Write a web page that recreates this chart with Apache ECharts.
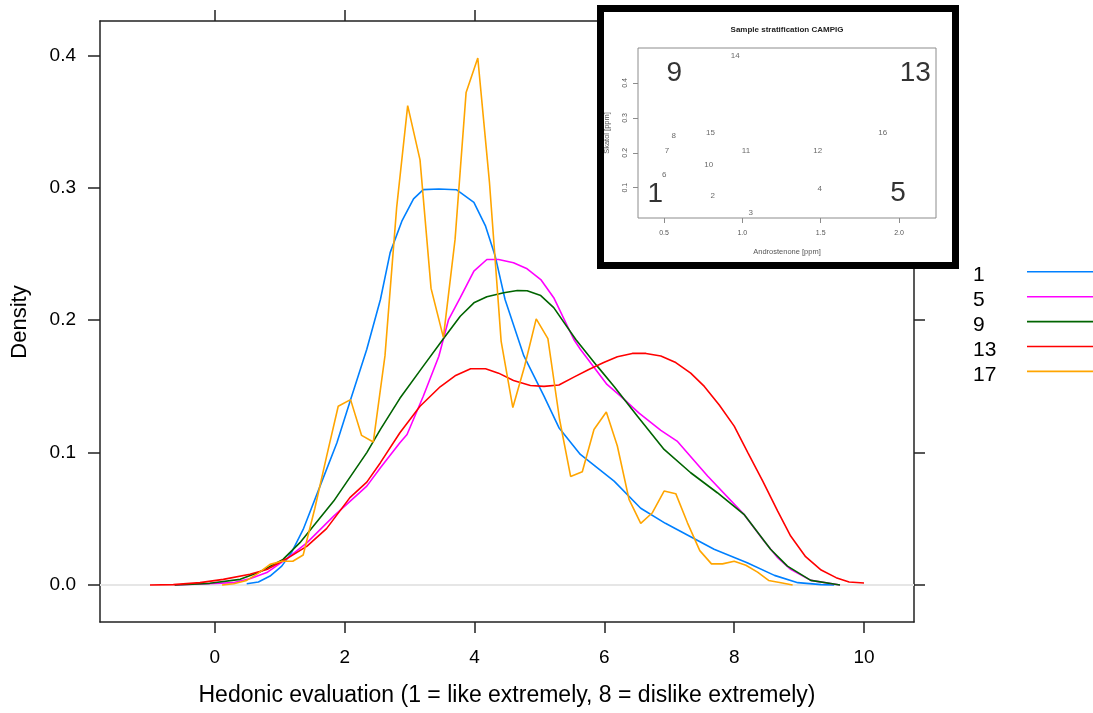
<!DOCTYPE html>
<html>
<head>
<meta charset="utf-8">
<script src="https://cdn.jsdelivr.net/npm/echarts@6/dist/echarts.min.js"></script>
<style>
  html, body { margin: 0; padding: 0; background: #fff; }
  #chart { width: 1093px; height: 713px; }
</style>
</head>
<body>
<div id="chart"></div>
<script>
// Kernel density estimates of hedonic scores, one curve per sample group
const groupNames  = ['1', '5', '9', '13', '17'];
const groupColors = ['#0080ff', '#ff00ff', '#006400', '#ff0000', '#ffa500'];

const dens1 = [[0.49,0.001],[0.67,0.0023],[0.85,0.0068],[1.03,0.0143],[1.18,0.0245],[1.36,0.042],[1.62,0.0747],[1.88,0.1075],[2.09,0.140],[2.34,0.178],[2.55,0.2156],[2.70,0.251],[2.88,0.2747],[3.06,0.2916],[3.21,0.2986],[3.45,0.2990],[3.72,0.2985],[3.99,0.289],[4.17,0.271],[4.32,0.248],[4.47,0.2156],[4.76,0.173],[5.07,0.1426],[5.30,0.1188],[5.63,0.0986],[6.15,0.0785],[6.56,0.058],[6.94,0.0466],[7.12,0.042],[7.69,0.027],[8.20,0.0169],[8.62,0.0073],[8.98,0.0018],[9.34,0.0003],[9.54,0]];

const dens5 = [[-0.62,0],[-0.20,0.0008],[0.28,0.0018],[0.55,0.005],[0.80,0.0094],[1.11,0.020],[1.42,0.032],[1.83,0.052],[2.34,0.0747],[2.55,0.0886],[2.85,0.1075],[2.96,0.1137],[3.21,0.1426],[3.45,0.1728],[3.60,0.2005],[3.78,0.217],[3.99,0.237],[4.19,0.2458],[4.37,0.2458],[4.60,0.2433],[4.81,0.2388],[5.02,0.2307],[5.22,0.217],[5.53,0.1854],[5.63,0.178],[6.04,0.1515],[6.25,0.1426],[6.53,0.130],[6.87,0.1168],[7.12,0.1087],[7.59,0.0823],[8.15,0.0534],[8.46,0.0332],[8.67,0.0207],[8.87,0.0118],[9.18,0.0035],[9.63,0]];

const dens9 = [[-0.62,0],[-0.08,0.0013],[0.39,0.0043],[0.69,0.0098],[1.05,0.0194],[1.31,0.032],[1.83,0.0634],[2.34,0.100],[2.55,0.1175],[2.85,0.141],[3.21,0.1653],[3.52,0.186],[3.78,0.203],[3.99,0.2131],[4.19,0.2177],[4.45,0.2207],[4.66,0.2224],[4.81,0.2222],[5.02,0.2186],[5.22,0.2095],[5.56,0.1854],[5.89,0.1653],[6.15,0.150],[6.51,0.1275],[6.92,0.1024],[7.33,0.0848],[7.74,0.0697],[8.15,0.0534],[8.56,0.027],[8.82,0.0143],[9.18,0.0035],[9.63,0]];

const dens13 = [[-1.00,0],[-0.64,0.0003],[-0.23,0.0018],[0.13,0.0043],[0.54,0.0081],[0.80,0.0118],[1.11,0.020],[1.42,0.0294],[1.72,0.0426],[2.08,0.066],[2.34,0.0777],[2.55,0.0924],[2.85,0.115],[3.16,0.135],[3.47,0.1497],[3.70,0.158],[3.94,0.1633],[4.17,0.1633],[4.37,0.160],[4.60,0.1545],[4.86,0.1507],[5.07,0.150],[5.30,0.151],[5.53,0.157],[5.76,0.1628],[5.99,0.168],[6.20,0.1724],[6.43,0.1749],[6.64,0.1749],[6.87,0.173],[7.10,0.168],[7.33,0.160],[7.54,0.150],[7.77,0.136],[8.00,0.120],[8.21,0.100],[8.44,0.0785],[8.67,0.0558],[8.87,0.037],[9.10,0.0214],[9.34,0.0113],[9.57,0.0056],[9.77,0.0023],[10.00,0.0015]];

const dens17 = [[0.11,0],[0.29,0.001],[0.49,0.0035],[0.67,0.009],[0.85,0.0156],[1.03,0.018],[1.20,0.018],[1.36,0.0227],[1.54,0.058],[1.72,0.097],[1.90,0.135],[2.09,0.140],[2.26,0.113],[2.44,0.108],[2.62,0.173],[2.80,0.285],[2.97,0.362],[3.16,0.321],[3.33,0.224],[3.52,0.187],[3.70,0.261],[3.87,0.372],[4.05,0.398],[4.23,0.304],[4.41,0.184],[4.59,0.134],[4.77,0.165],[4.95,0.201],[5.13,0.186],[5.31,0.125],[5.48,0.082],[5.66,0.0856],[5.84,0.1175],[6.03,0.1306],[6.20,0.105],[6.38,0.0647],[6.56,0.0466],[6.74,0.0546],[6.92,0.071],[7.10,0.069],[7.28,0.047],[7.47,0.026],[7.65,0.016],[7.82,0.016],[8.00,0.018],[8.18,0.0149],[8.36,0.0098],[8.53,0.0035],[8.72,0.0018],[8.90,0]];

const densities = [dens1, dens5, dens9, dens13, dens17];

const xTicks = [0, 2, 4, 6, 8, 10];
const yTicks = [0, 0.1, 0.2, 0.3, 0.4];
const xRange = [-1.77, 10.77];
const yRange = [-0.0279, 0.4259];

// Sample stratification panel: androstenone vs skatol per sample
const samplePoints = [[0.811,0.076,'2'],[1.053,0.027,'3'],[1.494,0.098,'4'],[0.502,0.136,'6'],[0.519,0.207,'7'],[0.562,0.248,'8'],[0.785,0.167,'10'],[1.023,0.207,'11'],[1.481,0.207,'12'],[0.955,0.477,'14'],[0.796,0.258,'15'],[1.896,0.257,'16']];
const quadrantLabels = [[0.444,0.082,'1'],[1.994,0.084,'5'],[0.566,0.428,'9'],[2.104,0.428,'13']];
const androThreshold = 1.0;
const skatolThreshold = 0.25;
const insetXTicks = [0.5, 1.0, 1.5, 2.0];
const insetYTicks = [0.1, 0.2, 0.3, 0.4];
const insetXRange = [0.334, 2.236];
const insetYRange = [0.0132, 0.5003];

const FONT = "'Liberation Sans', Arial, Helvetica, sans-serif";
const chart = echarts.init(document.getElementById('chart'), null, { renderer: 'canvas' });

const boxLine = { show: true, onZero: false, lineStyle: { color: '#222', width: 1.5 } };
const boxTick = (vals, len) => ({ show: true, inside: false, length: len, customValues: vals, lineStyle: { color: '#222', width: 1.5 } });

const series = [];
// horizontal reference at zero density
series.push({
  type: 'line', xAxisIndex: 0, yAxisIndex: 0, silent: true, symbol: 'none', z: 1,
  data: [[xRange[0], 0], [xRange[1], 0]],
  lineStyle: { color: '#e6e6e6', width: 2 }
});
densities.forEach((d, i) => {
  series.push({
    name: groupNames[i], type: 'line', xAxisIndex: 0, yAxisIndex: 0,
    data: d, symbol: 'none', showSymbol: false, silent: true, z: 2 + i,
    lineStyle: { color: groupColors[i], width: 1.6 }, itemStyle: { color: groupColors[i] }
  });
});
series.push({
  type: 'scatter', xAxisIndex: 2, yAxisIndex: 2, z: 61, silent: true,
  data: samplePoints, symbol: 'circle', symbolSize: 1,
  itemStyle: { color: 'rgba(0,0,0,0)' },
  label: { show: true, position: 'inside', formatter: p => String(p.value[2]), fontSize: 8, color: '#444', fontFamily: FONT },
  markLine: {
    silent: true, symbol: 'none', label: { show: false },
    lineStyle: { type: 'dotted', color: '#a0a0a0', width: 1 },
    data: [{ xAxis: androThreshold }, { yAxis: skatolThreshold }]
  }
});
series.push({
  type: 'scatter', xAxisIndex: 2, yAxisIndex: 2, z: 61, silent: true,
  data: quadrantLabels, symbol: 'circle', symbolSize: 1,
  itemStyle: { color: 'rgba(0,0,0,0)' },
  label: { show: true, position: 'inside', formatter: p => String(p.value[2]), fontSize: 28, color: '#000', fontFamily: FONT }
});

const graphics = [
  { type: 'text', x: 507, y: 696, z: 10, style: { text: 'Hedonic evaluation (1 = like extremely, 8 = dislike extremely)', font: '23px ' + FONT, fill: '#000', textAlign: 'center', textVerticalAlign: 'middle' } },
  { type: 'text', x: 20, y: 322, rotation: Math.PI / 2, z: 10, style: { text: 'Density', font: '22px ' + FONT, fill: '#000', textAlign: 'center', textVerticalAlign: 'middle' } },
  // inset frame
  { type: 'rect', z: 50, shape: { x: 600.5, y: 8.5, width: 355, height: 257 }, style: { fill: '#fff', stroke: '#000', lineWidth: 7 } },
  { type: 'text', x: 787, y: 30, z: 62, style: { text: 'Sample stratification CAMPIG', font: 'bold 8px ' + FONT, fill: '#222', textAlign: 'center', textVerticalAlign: 'middle' } },
  { type: 'text', x: 787, y: 252, z: 62, style: { text: 'Androstenone [ppm]', font: '7.5px ' + FONT, fill: '#555', textAlign: 'center', textVerticalAlign: 'middle' } },
  { type: 'text', x: 607, y: 133, rotation: Math.PI / 2, z: 62, style: { text: 'Skatol [ppm]', font: '7.5px ' + FONT, fill: '#555', textAlign: 'center', textVerticalAlign: 'middle' } }
];
// key: group label followed by a line sample in its colour
groupNames.forEach((n, i) => {
  graphics.push({ type: 'text', x: 973, y: 275.3 + i * 24.9, z: 10, style: { text: n, font: '21px ' + FONT, fill: '#000', textAlign: 'left', textVerticalAlign: 'middle' } });
  graphics.push({ type: 'line', z: 10, shape: { x1: 1027, y1: 271.8 + i * 24.9, x2: 1100, y2: 271.8 + i * 24.9 }, style: { stroke: groupColors[i], lineWidth: 1.6 } });
});

const option = {
  animation: false,
  backgroundColor: '#fff',
  grid: [
    { left: 100, top: 21, width: 814, height: 601, show: false },
    { left: 638, top: 48, width: 298, height: 170, show: true, borderColor: '#8c8c8c', borderWidth: 1, backgroundColor: 'rgba(0,0,0,0)', z: 60 }
  ],
  xAxis: [
    { gridIndex: 0, type: 'value', position: 'bottom', min: xRange[0], max: xRange[1],
      axisLine: boxLine, axisTick: boxTick(xTicks, 11), splitLine: { show: false },
      axisLabel: { customValues: xTicks, margin: 26, fontSize: 19, color: '#000', fontFamily: FONT } },
    { gridIndex: 0, type: 'value', position: 'top', min: xRange[0], max: xRange[1],
      axisLine: boxLine, axisTick: boxTick(xTicks, 11), splitLine: { show: false }, axisLabel: { show: false } },
    { gridIndex: 1, type: 'value', position: 'bottom', min: insetXRange[0], max: insetXRange[1], z: 60,
      axisLine: { show: false, onZero: false }, splitLine: { show: false },
      axisTick: { show: true, inside: false, length: 5, customValues: insetXTicks, lineStyle: { color: '#8c8c8c' } },
      axisLabel: { customValues: insetXTicks, margin: 12, fontSize: 7, color: '#555', fontFamily: FONT, formatter: v => v.toFixed(1) } }
  ],
  yAxis: [
    { gridIndex: 0, type: 'value', position: 'left', min: yRange[0], max: yRange[1],
      axisLine: boxLine, axisTick: boxTick(yTicks, 12), splitLine: { show: false },
      axisLabel: { customValues: yTicks, margin: 24, fontSize: 19, color: '#000', fontFamily: FONT, formatter: v => v.toFixed(1) } },
    { gridIndex: 0, type: 'value', position: 'right', min: yRange[0], max: yRange[1],
      axisLine: boxLine, axisTick: boxTick(yTicks, 11), splitLine: { show: false }, axisLabel: { show: false } },
    { gridIndex: 1, type: 'value', position: 'left', min: insetYRange[0], max: insetYRange[1], z: 60,
      axisLine: { show: false, onZero: false }, splitLine: { show: false },
      axisTick: { show: true, inside: false, length: 5, customValues: insetYTicks, lineStyle: { color: '#8c8c8c' } },
      axisLabel: { customValues: insetYTicks, rotate: 90, margin: 9, fontSize: 7, color: '#555', fontFamily: FONT, formatter: v => v.toFixed(1) } }
  ],
  graphic: { elements: graphics },
  series: series
};
chart.setOption(option);
</script>
</body>
</html>
